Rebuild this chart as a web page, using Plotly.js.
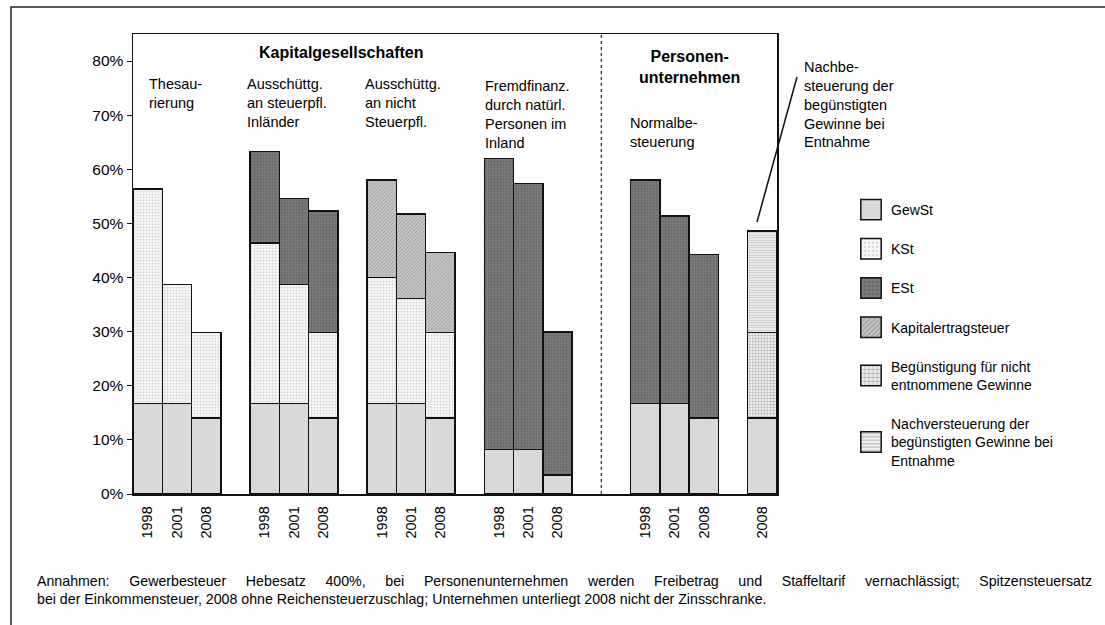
<!DOCTYPE html>
<html>
<head>
<meta charset="utf-8">
<script src="https://cdn.plot.ly/plotly-3.0.1.min.js"></script>
<style>
html,body{margin:0;padding:0;background:#fff;}
#chart{width:1105px;height:625px;}
</style>
</head>
<body>
<div id="chart"></div>
<script>
// ---- data ----
const groupNames = ['Thesaurierung', 'Ausschüttg. an steuerpfl. Inländer', 'Ausschüttg. an nicht Steuerpfl.',
  'Fremdfinanz. durch natürl. Personen im Inland', 'Normalbesteuerung', 'Nachbesteuerung'];
const groupYears = [
  ['1998','2001','2008'],
  ['1998','2001','2008'],
  ['1998','2001','2008'],
  ['1998','2001','2008'],
  ['1998','2001','2008'],
  ['2008']
];
const gewst  = [16.7,16.7,14.0, 16.7,16.7,14.0, 16.7,16.7,14.0, 8.2,8.2,3.5, 16.7,16.7,14.0, 14.0];
const kst    = [39.7,22.0,15.8, 29.7,22.0,15.8, 23.3,19.4,15.8, null,null,null, null,null,null, null];
const est    = [null,null,null, 16.9,15.9,22.5, null,null,null, 53.8,49.2,26.4, 41.3,34.7,30.3, null];
const kapest = [null,null,null, null,null,null, 18.0,15.6,14.8, null,null,null, null,null,null, null];
const beg    = [null,null,null, null,null,null, null,null,null, null,null,null, null,null,null, 15.8];
const nach   = [null,null,null, null,null,null, null,null,null, null,null,null, null,null,null, 18.8];
const seriesNames = ['GewSt','KSt','ESt','Kapitalertragsteuer','Begünstigung für nicht<br>entnommene Gewinne',
  'Nachversteuerung der<br>begünstigten Gewinne bei<br>Entnahme'];
const yTicks = [0,10,20,30,40,50,60,70,80];
const footLines = [
  'Annahmen: Gewerbesteuer Hebesatz 400%, bei Personenunternehmen werden Freibetrag und Staffeltarif vernachlässigt; Spitzensteuersatz',
  'bei der Einkommensteuer, 2008 ohne Reichensteuerzuschlag; Unternehmen unterliegt 2008 nicht der Zinsschranke.'
];

// ---- layout helpers ----
const gapsAfter = [1,1,1,2,1,0];
const xpos = []; const xlab = [];
let s = 0;
groupYears.forEach((ys, gi) => { ys.forEach(y => { xpos.push(s); xlab.push(y); s++; }); s += gapsAfter[gi]; });

const L = 133, R = 777, T = 34, B = 494;
const fx = px => (px - L) / (R - L);
const fy = py => (B - py) / (B - T);
const FONT = 'Liberation Sans, Arial, sans-serif';

const styles = [
  {color:'#d9d9d9'},
  {color:'#f7f7f7', pattern:{shape:'.', fgcolor:'#d6d6d6', bgcolor:'#f8f8f8', size:3, solidity:0.3}},
  {color:'#767676', pattern:{shape:'.', fgcolor:'#686868', bgcolor:'#7a7a7a', size:3, solidity:0.35}},
  {color:'#bdbdbd', pattern:{shape:'/', fgcolor:'#9a9a9a', bgcolor:'#c6c6c6', size:2.5, solidity:0.35}},
  {color:'#e4e4e4', pattern:{shape:'+', fgcolor:'#ababab', bgcolor:'#ededed', size:3, solidity:0.3}},
  {color:'#eeeeee', pattern:{shape:'-', fgcolor:'#c2c2c2', bgcolor:'#f2f2f2', size:2.5, solidity:0.4}}
];
const vals = [gewst, kst, est, kapest, beg, nach];

const traces = vals.map((v, i) => {
  const m = {color: styles[i].color, line:{color:'#111', width:1.5}};
  if (styles[i].pattern) m.pattern = styles[i].pattern;
  return {type:'bar', x:xpos, y:v, name:seriesNames[i], legendgroup:'g'+i, marker:m, hoverinfo:'y+name'};
});

const ann = (text, x, y, opts) => Object.assign({text, x:fx(x), y:fy(y), xref:'paper', yref:'paper',
  showarrow:false, xanchor:'left', yanchor:'top', align:'left',
  font:{family:FONT, size:14.5, color:'#000'}}, opts||{});

const layout = {
  width:1105, height:625,
  margin:{l:L, r:1105-R, t:T, b:625-B, pad:0},
  paper_bgcolor:'#fff', plot_bgcolor:'#fff',
  barmode:'stack', bargap:0,
  showlegend:true,
  legend:{x:fx(851), y:fy(194), xanchor:'left', yanchor:'top', traceorder:'grouped', tracegroupgap:18,
    font:{family:FONT, size:14, color:'#000'}, bgcolor:'rgba(0,0,0,0)'},
  xaxis:{range:[-0.5, s - 0.5 - gapsAfter[gapsAfter.length-1]], tickvals:xpos, ticktext:xlab, tickangle:-90,
    showline:true, linecolor:'#111', linewidth:1.5, mirror:true, ticks:'', showgrid:false, zeroline:false,
    ticklabelstandoff:5,
    tickfont:{family:FONT, size:14.5, color:'#000'}, fixedrange:true},
  yaxis:{range:[0,85], tickvals:yTicks, ticktext:yTicks.map(t => t + '%'), ticks:'outside', ticklen:5,
    tickcolor:'#111', showline:true, linecolor:'#111', linewidth:1.5, mirror:true, showgrid:false, zeroline:false,
    tickfont:{family:FONT, size:15.5, color:'#000'}, fixedrange:true},
  shapes:[
    {type:'line', xref:'x', yref:'paper', x0:15.5, x1:15.5, y0:0, y1:1, line:{color:'#333', width:1.3, dash:'dot'}},
    {type:'line', xref:'paper', yref:'paper', x0:fx(757), y0:fy(222), x1:fx(797), y1:fy(77), line:{color:'#111', width:1.5}},
    {type:'rect', xref:'paper', yref:'paper', x0:fx(11), y0:fy(7), x1:fx(1115), y1:fy(640), line:{color:'#222', width:1.5}, fillcolor:'rgba(0,0,0,0)', layer:'below'}
  ],
  annotations:[
    ann('<b>Kapitalgesellschaften</b>', 341, 52, {xanchor:'center', yanchor:'middle', font:{family:FONT, size:16, color:'#000'}}),
    ann('<b>Personen-</b><br><b>unternehmen</b>', 689, 67, {xanchor:'center', yanchor:'middle', align:'center', font:{family:FONT, size:16, color:'#000'}}),
    ann('Thesau-<br>rierung', 147, 74),
    ann('Ausschüttg.<br>an steuerpfl.<br>Inländer', 245, 74),
    ann('Ausschüttg.<br>an nicht<br>Steuerpfl.', 363, 74),
    ann('Fremdfinanz.<br>durch natürl.<br>Personen im<br>Inland', 483, 76),
    ann('Normalbe-<br>steuerung', 628, 113),
    ann('Nachbe-<br>steuerung der<br>begünstigten<br>Gewinne bei<br>Entnahme', 802, 57),
    ann(footLines[0], 35, 581, {yanchor:'middle', font:{family:FONT, size:14.2, color:'#000'}}),
    ann(footLines[1], 35, 599, {yanchor:'middle', font:{family:FONT, size:14.2, color:'#000'}})
  ]
};

Plotly.newPlot('chart', traces, layout, {displayModeBar:false, staticPlot:true}).then(() => {
  document.querySelectorAll('#chart .legendpoints path').forEach(p => {
    const t = p.getAttribute('transform') || '';
    p.setAttribute('transform', t + ' scale(1.7)');
    p.style.vectorEffect = 'non-scaling-stroke';
  });
  // justify first footnote line like the original text box
  document.querySelectorAll('#chart text.annotation-text').forEach(el => {
    if (el.textContent === footLines[0]) {
      const natural = el.getComputedTextLength();
      const spaces = (footLines[0].match(/ /g) || []).length;
      const target = 1090 - 35;
      if (natural < target && spaces) el.style.wordSpacing = ((target - natural) / spaces) + 'px';
    }
  });
});
</script>
</body>
</html>
